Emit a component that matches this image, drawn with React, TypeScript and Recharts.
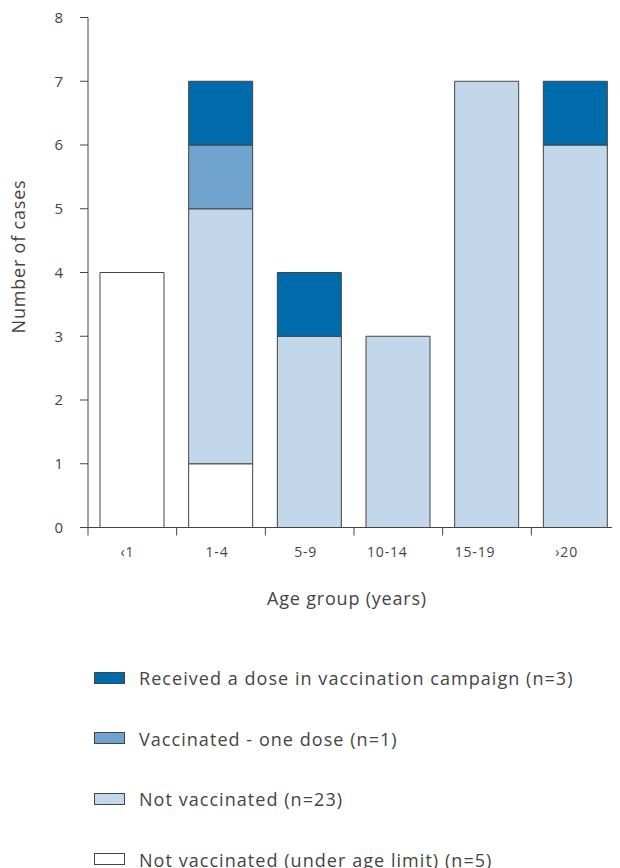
import React from 'react';
import { BarChart, Bar, XAxis, YAxis, Legend, Label } from 'recharts';

const categories = ['‹1', '1-4', '5-9', '10-14', '15-19', '›20'];
const underAgeLimit = [4, 1, 0, 0, 0, 0];
const notVaccinated = [0, 4, 3, 3, 7, 6];
const oneDose = [0, 1, 0, 0, 0, 0];
const campaign = [0, 1, 1, 0, 0, 1];
const yTicks = [0, 1, 2, 3, 4, 5, 6, 7, 8];

const seriesNames = {
  underAge: 'Not vaccinated (under age limit) (n=5)',
  notVacc: 'Not vaccinated (n=23)',
  oneDose: 'Vaccinated - one dose (n=1)',
  campaign: 'Received a dose in vaccination campaign (n=3)',
};
const legendOrder = ['campaign', 'oneDose', 'notVacc', 'underAge'];

const data = categories.map((c, i) => ({
  cat: c,
  underAge: underAgeLimit[i],
  notVacc: notVaccinated[i],
  oneDose: oneDose[i],
  campaign: campaign[i],
}));

const CHART_W = 612;
const CHART_H = 860;
const Y_W = 80;
const X_H = 80;
const MARGIN = { top: 9.5, right: 0, left: 0, bottom: 260.5 };
const PLOT_W = CHART_W - Y_W - MARGIN.left - MARGIN.right;
const BAND = PLOT_W / categories.length;
const FONT = '"Open Sans", "DejaVu Sans", sans-serif';
const TEXT = '#444';
const AXIS = '#444';
// small horizontal nudges of the tick labels, as in the original layout
const TICK_LABEL_DX = [-5, -4, -4, -11, -12, -9];

const XTick = (props: any) => {
  const { x, y, payload, index } = props;
  const left = x - BAND / 2;
  const right = x + BAND / 2;
  return (
    <g>
      <line x1={left} y1={y} x2={left} y2={y + 8} stroke={AXIS} strokeWidth={1} />
      {index === categories.length - 1 && (
        <line x1={right} y1={y} x2={right} y2={y + 8} stroke={AXIS} strokeWidth={1} />
      )}
      <text x={x + (TICK_LABEL_DX[index] || 0)} y={y + 26} textAnchor="middle" dominantBaseline="middle" fill={TEXT} fontSize={14} letterSpacing={0.8} fontFamily={FONT}>
        {payload.value}
      </text>
    </g>
  );
};

const XTitle = (props: any) => {
  const { viewBox } = props;
  return (
    <text x={viewBox.x + viewBox.width / 2 - 7} y={viewBox.y + 73} textAnchor="middle" dominantBaseline="middle" fill={TEXT} fontSize={18} letterSpacing={0.8} fontFamily={FONT}>
      Age group (years)
    </text>
  );
};

const YTitle = (props: any) => {
  const { viewBox } = props;
  const cx = viewBox.x + 12;
  const cy = viewBox.y + viewBox.height / 2 - 16;
  return (
    <text x={cx} y={cy} transform={`rotate(-90 ${cx} ${cy})`} textAnchor="middle" dominantBaseline="middle" fill={TEXT} fontSize={18} letterSpacing={0.8} fontFamily={FONT}>
      Number of cases
    </text>
  );
};

const LegendContent = (props: any) => {
  const payload = props.payload || [];
  const items = legendOrder
    .map((k) => payload.find((p: any) => p.dataKey === k))
    .filter(Boolean);
  return (
    <div style={{ fontFamily: FONT }}>
      {items.map((it: any) => (
        <div key={it.value} style={{ height: 60.5, display: 'flex', alignItems: 'center' }}>
          <div style={{ width: 29, height: 10, background: it.payload?.fill || it.color, border: '1px solid #444', marginRight: 14, marginTop: -1, flex: 'none' }} />
          <span style={{ color: TEXT, fontSize: 18, letterSpacing: 1.05, whiteSpace: 'nowrap' }}>{it.value}</span>
        </div>
      ))}
    </div>
  );
};

export default function App() {
  return (
    <div style={{ width: CHART_W, height: CHART_H, overflow: 'hidden' }}>
      <BarChart width={CHART_W} height={CHART_H} data={data} margin={MARGIN}>
        <XAxis
          dataKey="cat"
          height={X_H}
          axisLine={{ stroke: AXIS }}
          tickLine={false}
          tickSize={0}
          tickMargin={0}
          tick={<XTick />}
          interval={0}
        >
          <Label content={<XTitle />} />
        </XAxis>
        <YAxis
          width={Y_W}
          domain={[0, 8]}
          ticks={yTicks}
          interval={0}
          axisLine={{ stroke: AXIS }}
          tickLine={{ stroke: AXIS }}
          tickSize={8}
          tickMargin={17}
          tick={{ fill: TEXT, fontSize: 15, fontFamily: FONT }}
        >
          <Label content={<YTitle />} />
        </YAxis>
        <Legend
          layout="vertical"
          align="center"
          verticalAlign="middle"
          content={<LegendContent />}
          wrapperStyle={{ top: 639.75, left: 86, width: 520, height: 242 }}
        />
        <Bar dataKey="underAge" name={seriesNames.underAge} stackId="a" fill="#FFFFFF" stroke="#444" strokeWidth={1} barSize={64} isAnimationActive={false} />
        <Bar dataKey="notVacc" name={seriesNames.notVacc} stackId="a" fill="#C3D7EB" stroke="#444" strokeWidth={1} barSize={64} isAnimationActive={false} />
        <Bar dataKey="oneDose" name={seriesNames.oneDose} stackId="a" fill="#70A4CF" stroke="#444" strokeWidth={1} barSize={64} isAnimationActive={false} />
        <Bar dataKey="campaign" name={seriesNames.campaign} stackId="a" fill="#006BAB" stroke="#444" strokeWidth={1} barSize={64} isAnimationActive={false} />
      </BarChart>
    </div>
  );
}
